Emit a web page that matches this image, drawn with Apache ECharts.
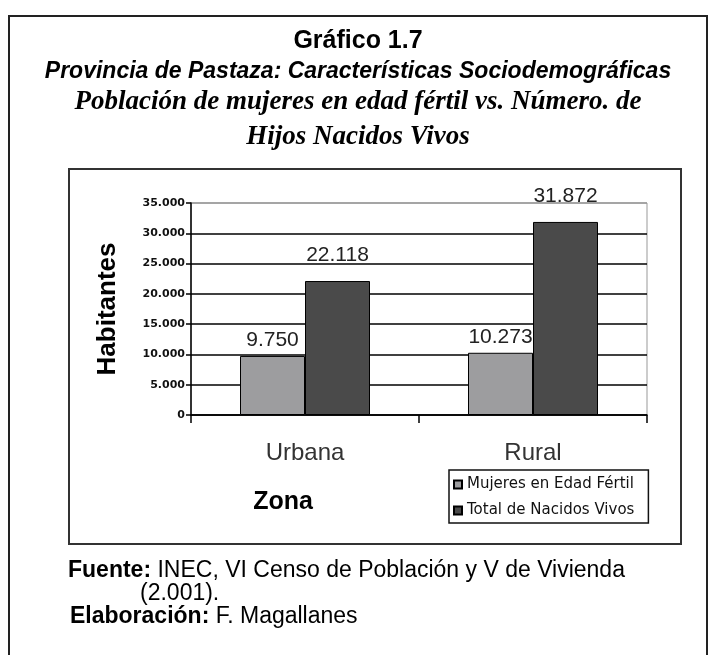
<!DOCTYPE html>
<html>
<head>
<meta charset="utf-8">
<script src="https://cdn.jsdelivr.net/npm/echarts@6/dist/echarts.min.js"></script>
<style>
  html, body { margin: 0; padding: 0; background: #fff; }
  #chart { width: 720px; height: 655px; }
</style>
</head>
<body>
<div id="chart"></div>
<script>
var zonas = ['Urbana', 'Rural'];
var mujeresFertil = [9750, 10273];
var nacidosVivos = [22118, 31872];
var serieNames = ['Mujeres en Edad Fértil', 'Total de Nacidos Vivos'];

// 35000 -> "35.000"
function miles(v) {
    var s = String(Math.round(v));
    return s.replace(/\B(?=(\d{3})+(?!\d))/g, '.');
}

var dom = document.getElementById('chart');
var myChart = echarts.init(dom);

var option = {
    animation: false,
    backgroundColor: '#fff',
    grid: {
        left: 191, right: 73, top: 203, bottom: 240,
        show: true, borderColor: '#999', borderWidth: 1
    },
    legend: {
        orient: 'vertical',
        left: 449, top: 470,
        data: serieNames,
        itemWidth: 8, itemHeight: 8,
        itemGap: 11,
        padding: [7, 14, 5, 4],
        borderColor: '#111', borderWidth: 1.5,
        icon: 'rect',
        textStyle: { fontFamily: 'DejaVu Sans', fontSize: 15, color: '#111' }
    },
    xAxis: {
        type: 'category',
        data: zonas,
        axisLine: { lineStyle: { color: '#000', width: 1.5 } },
        axisTick: { show: true, length: 8, lineStyle: { color: '#000', width: 1.5 } },
        axisLabel: { fontFamily: 'Liberation Sans', fontSize: 24, color: '#333', margin: 26 }
    },
    yAxis: {
        type: 'value',
        min: 0, max: 35000, interval: 5000,
        name: 'Habitantes',
        nameLocation: 'middle',
        nameGap: 70,
        nameTextStyle: { fontFamily: 'Liberation Sans', fontWeight: 'bold', fontSize: 26, color: '#000' },
        axisLine: { show: true, lineStyle: { color: '#000', width: 1.5 } },
        axisTick: { show: true, length: 5, lineStyle: { color: '#000', width: 1.5 } },
        axisLabel: {
            fontFamily: 'DejaVu Sans', fontWeight: 'bold', fontSize: 11, color: '#111', margin: 6,
            formatter: miles
        },
        splitLine: {
            show: true,
            lineStyle: { color: ['#000', '#000', '#000', '#000', '#000', '#000', '#000', '#999'], width: 1.5 }
        }
    },
    series: [{
        name: serieNames[0],
        type: 'bar',
        data: mujeresFertil,
        barWidth: 65,
        barGap: '0%',
        itemStyle: { color: '#9d9d9f', borderColor: '#000', borderWidth: 1 },
        label: {
            show: true, position: 'top', distance: 5,
            fontFamily: 'Liberation Sans', fontSize: 21, color: '#222',
            formatter: function (p) { return miles(p.value); }
        }
    }, {
        name: serieNames[1],
        type: 'bar',
        data: nacidosVivos,
        barWidth: 65,
        itemStyle: { color: '#4a4a4a', borderColor: '#000', borderWidth: 1 },
        label: {
            show: true, position: 'top', distance: 15,
            fontFamily: 'Liberation Sans', fontSize: 21, color: '#222',
            formatter: function (p) { return miles(p.value); }
        }
    }],
    graphic: [
        // outer frame (bottom edge falls below the page)
        { type: 'rect', shape: { x: 9, y: 16, width: 698, height: 660 },
          style: { fill: 'none', stroke: '#222', lineWidth: 2 }, z: 0 },
        // inner chart box
        { type: 'rect', shape: { x: 69, y: 169, width: 612, height: 375 },
          style: { fill: 'none', stroke: '#333', lineWidth: 2 }, z: 0 },
        { type: 'text', x: 358, y: 41,
          style: { text: 'Gráfico 1.7', font: 'bold 25px "Liberation Sans"', fill: '#000', align: 'center', verticalAlign: 'middle' } },
        { type: 'text', x: 358, y: 72,
          style: { text: 'Provincia de Pastaza: Características Sociodemográficas', font: 'italic bold 23px "Liberation Sans"', fill: '#000', align: 'center', verticalAlign: 'middle' } },
        { type: 'text', x: 358, y: 102,
          style: { text: 'Población de mujeres en edad fértil vs. Número. de', font: 'italic bold 27px "Liberation Serif"', fill: '#000', align: 'center', verticalAlign: 'middle' } },
        { type: 'text', x: 358, y: 137,
          style: { text: 'Hijos Nacidos Vivos', font: 'italic bold 27px "Liberation Serif"', fill: '#000', align: 'center', verticalAlign: 'middle' } },
        { type: 'text', x: 283, y: 502,
          style: { text: 'Zona', font: 'bold 25px "Liberation Sans"', fill: '#000', align: 'center', verticalAlign: 'middle' } },
        { type: 'text', x: 68, y: 571,
          style: { text: '{b|Fuente:} INEC, VI Censo de Población y V de Vivienda',
                   font: '23px "Liberation Sans"', fill: '#000', verticalAlign: 'middle',
                   rich: { b: { fontWeight: 'bold', fontSize: 23, fontFamily: 'Liberation Sans' } } } },
        { type: 'text', x: 140, y: 594,
          style: { text: '(2.001).', font: '23px "Liberation Sans"', fill: '#000', verticalAlign: 'middle' } },
        { type: 'text', x: 70, y: 617,
          style: { text: '{b|Elaboración:} F. Magallanes',
                   font: '23px "Liberation Sans"', fill: '#000', verticalAlign: 'middle',
                   rich: { b: { fontWeight: 'bold', fontSize: 23, fontFamily: 'Liberation Sans' } } } }
    ]
};

if (option && typeof option === 'object') {
    myChart.setOption(option, true);
}
</script>
</body>
</html>
